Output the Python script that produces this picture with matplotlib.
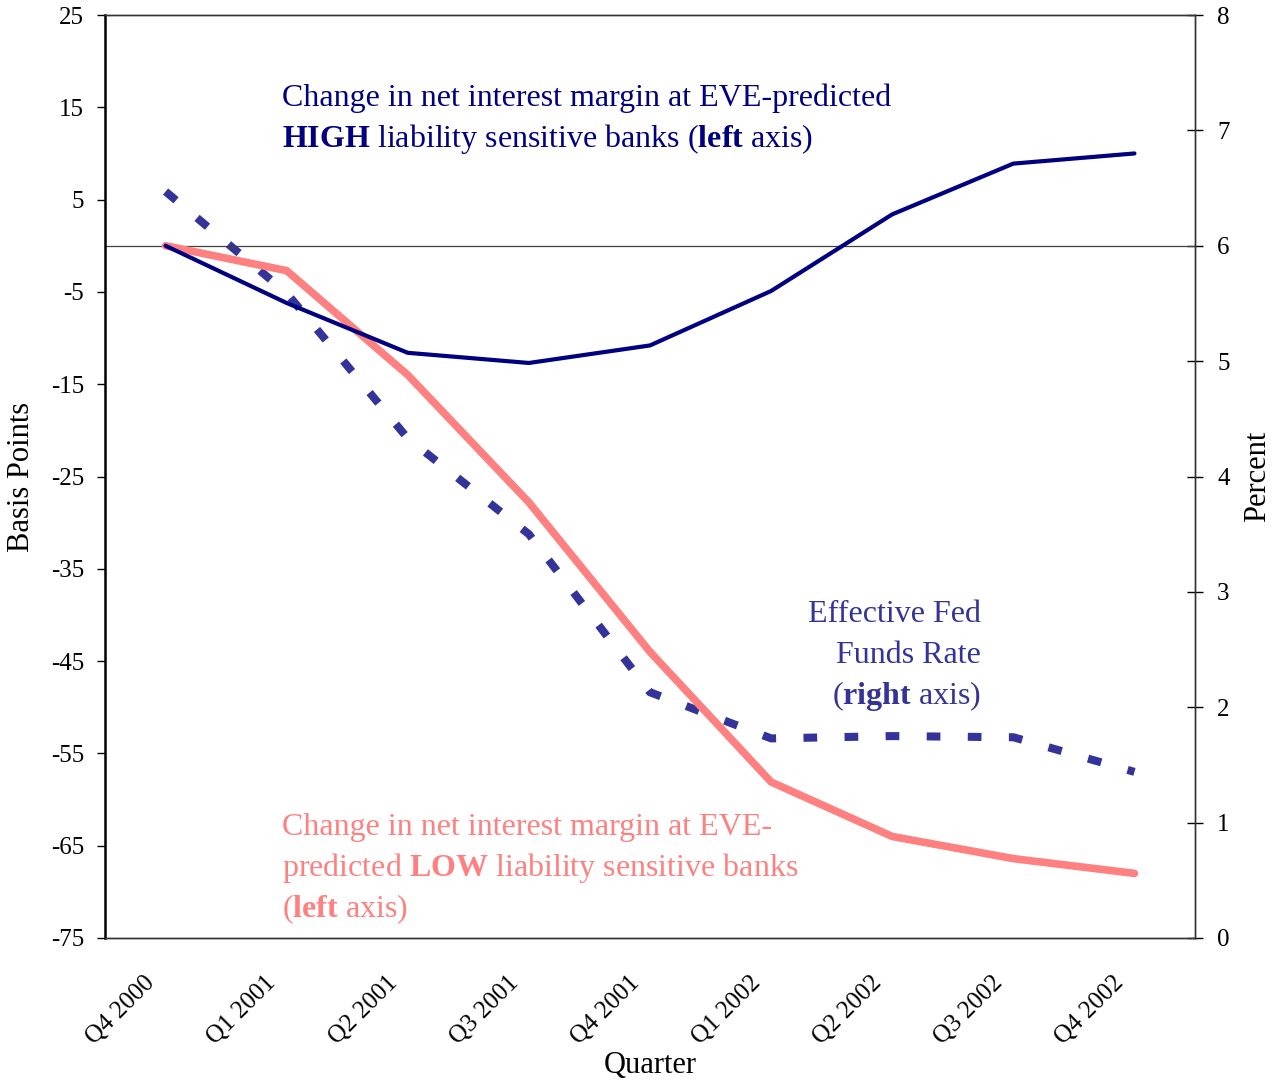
import matplotlib
matplotlib.use("Agg")
import matplotlib.pyplot as plt
import matplotlib.transforms as mtransforms
import numpy as np

plt.rcParams['font.family'] = ['Liberation Serif', 'DejaVu Serif']
plt.rcParams['mathtext.fontset'] = 'custom'
plt.rcParams['mathtext.rm'] = 'Liberation Serif'
plt.rcParams['mathtext.bf'] = 'Liberation Serif:bold'

quarters = ["Q4 2000", "Q1 2001", "Q2 2001", "Q3 2001", "Q4 2001",
            "Q1 2002", "Q2 2002", "Q3 2002", "Q4 2002"]
high_nim = [0.0, -6.2, -11.6, -12.7, -10.8, -4.9, 3.4, 8.9, 10.0]
low_nim = [0.0, -2.7, -14.0, -27.8, -44.0, -58.1, -64.0, -66.4, -68.0]
fed_funds = [6.47, 5.59, 4.33, 3.50, 2.13, 1.73, 1.75, 1.74, 1.44]
left_ticks = [25, 15, 5, -5, -15, -25, -35, -45, -55, -65, -75]
right_ticks = [0, 1, 2, 3, 4, 5, 6, 7, 8]

NAVY = '#000080'
SALMON = '#FF8080'
FEDBLUE = '#333399'

W, H = 1279, 1084
AX_L, AX_R, AX_T, AX_B = 105, 1195, 15, 938

fig = plt.figure(figsize=(W / 100, H / 100), dpi=100)
ax = fig.add_axes([AX_L / W, 1 - AX_B / H, (AX_R - AX_L) / W, (AX_B - AX_T) / H])
ax2 = ax.twinx()


def fx(px):
    return (px - AX_L) / (AX_R - AX_L)


def fy(py):
    return 1 - (py - AX_T) / (AX_B - AX_T)


x = np.arange(len(quarters))

ax.axhline(0, color='#404040', lw=0.9, zorder=1)
ax2.plot(x, fed_funds, color=FEDBLUE, lw=5.8, dashes=(1.7, 3.4),
         solid_capstyle='butt', dash_capstyle='butt', zorder=2)
ax.plot(x, low_nim, color=SALMON, lw=5.5, solid_capstyle='round',
        solid_joinstyle='round', zorder=3)
ax.plot(x, high_nim, color=NAVY, lw=3.0, solid_capstyle='round',
        solid_joinstyle='round', zorder=4)
ax.set_zorder(ax2.get_zorder() + 1)
ax.patch.set_visible(False)

ax.set_xlim(-0.5, len(quarters) - 0.5)
ax.set_ylim(-75, 25)
ax.set_yticks(left_ticks)
ax.set_yticklabels([str(t) for t in left_ticks])
ax2.set_ylim(0, 8)
ax2.set_yticks(right_ticks)
ax2.set_yticklabels([str(t) for t in right_ticks])

ax.set_xticks(x)
ax.tick_params(axis='x', length=0, pad=30)
ax.tick_params(axis='y', direction='out', length=6, width=1.0, labelsize=18, pad=9)
ax2.tick_params(axis='y', direction='inout', length=12, width=1.0, labelsize=18, pad=10)
ax.set_xticklabels(quarters, rotation=45, ha='right', va='center',
                   rotation_mode='anchor', fontsize=18)
offset = mtransforms.ScaledTranslation(-14 / 100, 0, fig.dpi_scale_trans)
for lab in ax.get_xticklabels():
    lab.set_transform(lab.get_transform() + offset)

for a in (ax, ax2):
    for s in a.spines.values():
        s.set_linewidth(1.0)
        s.set_color('#333333')
ax.spines['left'].set_color('black')
ax.spines['left'].set_linewidth(1.8)
ax2.spines['left'].set_visible(False)

ax.set_ylabel('Basis Points', fontsize=22)
ax.yaxis.set_label_coords(fx(22), 0.5)
ax2.set_ylabel('Percent', fontsize=22, rotation=90)
ax2.yaxis.set_label_coords(fx(1258), 0.5)
ax.set_xlabel('Quarter', fontsize=22)
ax.xaxis.set_label_coords(0.5, fy(1065))
ax.xaxis.label.set_va('center')
ax.yaxis.label.set_va('center')
ax2.yaxis.label.set_va('center')

FS = 23
high_lines = ["Change in net interest margin at EVE-predicted",
              r"$\mathbf{HIGH}$ liability sensitive banks ($\mathbf{left}$ axis)"]
for i, line in enumerate(high_lines):
    ax.text(fx(282), fy(106 + 40.5 * i), line, transform=ax.transAxes,
            color=NAVY, fontsize=FS, ha='left', va='baseline')

fed_lines = ["Effective Fed", "Funds Rate", r"($\mathbf{right}$ axis)"]
for i, line in enumerate(fed_lines):
    ax.text(fx(981), fy(622 + 41 * i), line, transform=ax.transAxes,
            color=FEDBLUE, fontsize=FS, ha='right', va='baseline')

low_lines = ["Change in net interest margin at EVE-",
             r"predicted $\mathbf{LOW}$ liability sensitive banks",
             r"($\mathbf{left}$ axis)"]
for i, line in enumerate(low_lines):
    ax.text(fx(282), fy(835 + 41 * i), line, transform=ax.transAxes,
            color=SALMON, fontsize=FS, ha='left', va='baseline')

fig.savefig('out.png', dpi=100)
